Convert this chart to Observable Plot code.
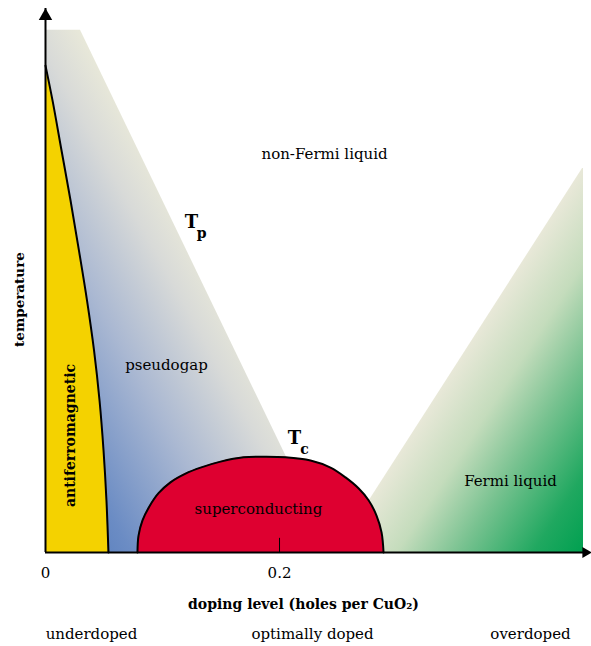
<!DOCTYPE html>
<html>
<head>
<meta charset="utf-8">
<script src="https://cdn.jsdelivr.net/npm/d3@7"></script>
<script src="https://cdn.jsdelivr.net/npm/@observablehq/plot@0.6"></script>
<style>
  body { margin: 0; background: #fff; }
</style>
</head>
<body>
<div id="chart"></div>
<script>
// ---- Data (doping level in holes per CuO2, temperature in arbitrary units 0..100) ----
const dopingMax = 0.4615;
const tempMax = 100;
const dopingTicks = [0, 0.2];
const dopingTickLabels = ["0", "0.2"];

// antiferromagnetic boundary (T_N)
const afmDoping = [0, 0.0060, 0.0137, 0.0214, 0.0286, 0.0355, 0.0415, 0.0462, 0.0496, 0.0521, 0.0538];
const afmTemp   = [89.5, 83.1, 73.9, 64.7, 55.5, 46.3, 37.1, 27.9, 18.75, 9.56, 0];

// superconducting dome (T_c)
const domeDoping = [0.0786, 0.0795, 0.0829, 0.0889, 0.0966, 0.1068, 0.1197, 0.1325, 0.1496, 0.1692, 0.188, 0.2051, 0.2265, 0.2436, 0.2564, 0.2675, 0.2761, 0.2829, 0.2872, 0.2889];
const domeTemp   = [0, 3.1, 5.9, 8.5, 10.9, 12.9, 14.5, 15.6, 16.7, 17.5, 17.6, 17.5, 16.9, 15.6, 13.8, 11.8, 9.6, 6.8, 3.7, 0];

// pseudogap region (bounded by T_p)
const pseudogapDoping = [0, 0.0299, 0.2453];
const pseudogapTemp   = [96, 96, 0];

// Fermi liquid region
const fermiDoping = [0.2482, 0.459, 0.4598];
const fermiTemp   = [0, 70.6, 70.6];

// labels
const regionLabels = ["non-Fermi liquid", "pseudogap", "superconducting", "Fermi liquid"];
const regionLabelDoping = [0.2385, 0.1034, 0.182, 0.3974];
const regionLabelTemp = [73.3, 34.4, 7.9, 13.2];
const afmLabel = "antiferromagnetic";
const afmLabelDoping = 0.0214, afmLabelTemp = 21.5;
const lineLabels = ["T", "T"];
const lineSubscripts = ["p", "c"];
const lineLabelDoping = [0.1248, 0.2128];
const lineLabelTemp = [60.7, 21.0];
const regimeLabels = ["underdoped", "optimally doped", "overdoped"];
const regimeDoping = [0.0393, 0.2282, 0.4145];
const xTitle = "doping level (holes per CuO\u2082)";
const yTitle = "temperature";

// ---- build tables ----
const zip = (xs, ys) => xs.map((d, i) => ({d, T: ys[i]}));
const afm = zip(afmDoping, afmTemp);
const dome = zip(domeDoping, domeTemp);
const pseudogap = zip(pseudogapDoping, pseudogapTemp);
const fermi = zip(fermiDoping, fermiTemp);
const regions = regionLabels.map((t, i) => ({t, d: regionLabelDoping[i], T: regionLabelTemp[i]}));
const lineLabs = lineLabels.map((t, i) => ({t, s: lineSubscripts[i], d: lineLabelDoping[i], T: lineLabelTemp[i]}));
const regimes = regimeLabels.map((t, i) => ({t, d: regimeDoping[i]}));

const serif = "DejaVu Serif";

const chart = Plot.plot({
  width: 591,
  height: 646,
  marginLeft: 45,
  marginRight: 6,
  marginTop: 8,
  marginBottom: 94,
  style: {background: "#fff", color: "#000", fontFamily: serif},
  x: {domain: [0, dopingMax], axis: null},
  y: {domain: [0, tempMax], axis: null},
  marks: [
    Plot.areaY(pseudogap, {x: "d", y: "T", fill: "url(#pgGrad)", curve: "linear"}),
    Plot.areaY(fermi, {x: "d", y: "T", fill: "url(#flGrad)", curve: "linear"}),
    Plot.areaX(afm, {y: "T", x1: 0, x2: "d", fill: "#f4d200", curve: "catmull-rom"}),
    Plot.line(afm, {x: "d", y: "T", stroke: "#000", strokeWidth: 2, curve: "catmull-rom"}),
    Plot.areaY(dome, {x: "d", y: "T", fill: "#de0030", curve: "catmull-rom"}),
    Plot.line(dome, {x: "d", y: "T", stroke: "#000", strokeWidth: 2, curve: "catmull-rom"}),
    // axes
    Plot.ruleY([0], {stroke: "#000", strokeWidth: 2}),
    Plot.ruleX([0], {stroke: "#000", strokeWidth: 2}),
    Plot.dot([{d: 0, T: 98.6}], {x: "d", y: "T", symbol: "triangle", r: 5, fill: "#000", stroke: null}),
    Plot.dot([{d: dopingMax, T: 0}], {x: "d", y: "T", symbol: "triangle", rotate: 90, r: 4, fill: "#000", stroke: null}),
    Plot.ruleX([dopingTicks[1]], {y1: 0, y2: 2.6, stroke: "#000", strokeWidth: 1}),
    Plot.axisX(dopingTicks, {tickSize: 0, tickPadding: 15, tickFormat: (d, i) => dopingTickLabels[i], fontSize: 15, fontFamily: serif, label: null}),
    // labels
    Plot.text(regions, {x: "d", y: "T", text: "t", fontSize: 15, fontFamily: serif, fill: "#000"}),
    Plot.text([afmLabel], {x: () => afmLabelDoping, y: () => afmLabelTemp, text: d => d, rotate: -90, fontSize: 14, fontWeight: "bold", fontFamily: serif, fill: "#000"}),
    Plot.text([yTitle], {x: () => -0.0222, y: () => 46.5, text: d => d, rotate: -90, fontSize: 13.5, fontWeight: "bold", fontFamily: serif, fill: "#000"}),
    Plot.text(lineLabs, {x: "d", y: "T", text: "t", fontSize: 18, fontWeight: "bold", fontFamily: serif, fill: "#000"}),
    Plot.text(lineLabs, {x: "d", y: "T", text: "s", dx: 10, dy: 11, fontSize: 14, fontWeight: "bold", fontFamily: serif, fill: "#000"}),
    Plot.text([xTitle], {x: () => 0.2205, y: () => -9.56, text: d => d, fontSize: 14, fontWeight: "bold", fontFamily: serif, fill: "#000"}),
    Plot.text(regimes, {x: "d", y: () => -15.1, text: "t", fontSize: 15, fontFamily: serif, fill: "#000"})
  ]
});

// gradient definitions
const svg = d3.select(chart);
const defs = svg.insert("defs", ":first-child");
const pg = defs.append("linearGradient").attr("id", "pgGrad")
  .attr("x1", 0).attr("y1", 1).attr("x2", 1).attr("y2", 0);
[[0, "#4a74b8"], [0.15, "#6b8cc4"], [0.33, "#aab8d2"], [0.48, "#d8dad8"], [0.56, "#e8e8d9"], [1, "#e8e8d9"]]
  .forEach(([o, c]) => pg.append("stop").attr("offset", o).attr("stop-color", c));
const fl = defs.append("linearGradient").attr("id", "flGrad")
  .attr("x1", 0.5).attr("y1", 0.5).attr("x2", 1).attr("y2", 1);
[[0, "#e8e8d8"], [0.25, "#c4dcbc"], [0.5, "#78c290"], [0.8, "#20a860"], [1, "#00a050"]]
  .forEach(([o, c]) => fl.append("stop").attr("offset", o).attr("stop-color", c));

document.getElementById("chart").append(chart);
</script>
</body>
</html>
